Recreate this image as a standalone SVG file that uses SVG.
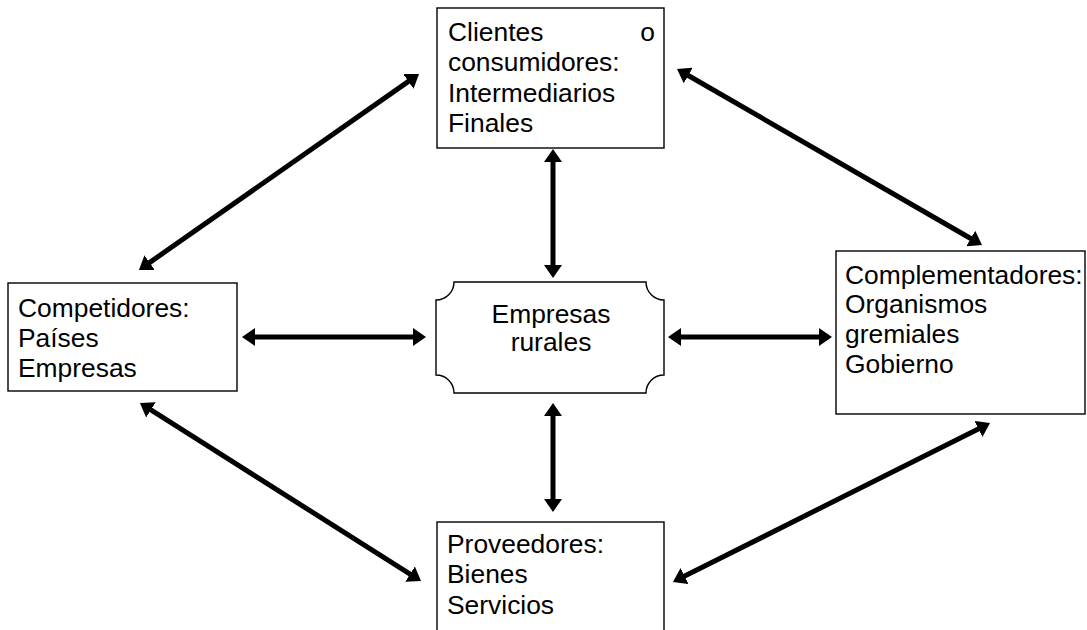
<svg xmlns="http://www.w3.org/2000/svg" width="1087" height="630" viewBox="0 0 1087 630">
<style>
.box{fill:#fff;stroke:#000;stroke-width:1.4}
.t{font-family:"Liberation Sans",Arial,sans-serif;font-size:26.4px;fill:#000}
.c{fill:none;stroke:#000;stroke-width:5}
</style>
<defs>
<marker id="ah" markerUnits="userSpaceOnUse" markerWidth="14" markerHeight="18" refX="1" refY="9" orient="auto-start-reverse">
<path d="M0,0 L13,9 L0,18 Z" fill="#000"/>
</marker>
</defs>
<rect width="1087" height="630" fill="#fff"/>
<g id="clientes">
<rect class="box" x="437" y="8" width="227" height="140"/>
<text class="t" x="448" y="41">Clientes</text>
<text class="t" x="655" y="41" text-anchor="end">o</text>
<text class="t" x="448" y="71">consumidores:</text>
<text class="t" x="448" y="102">Intermediarios</text>
<text class="t" x="448" y="132">Finales</text>
</g>
<g id="empresas">
<path class="box" d="M454,282 H646 A18,18 0 0 0 664,300 V375 A18,18 0 0 0 646,393 H454 A18,18 0 0 0 436,375 V300 A18,18 0 0 0 454,282 Z"/>
<text class="t" x="551" y="323" text-anchor="middle">Empresas</text>
<text class="t" x="551" y="351" text-anchor="middle">rurales</text>
</g>
<g id="proveedores">
<rect class="box" x="437" y="522" width="227" height="120"/>
<text class="t" x="447" y="553">Proveedores:</text>
<text class="t" x="447" y="583">Bienes</text>
<text class="t" x="447" y="614">Servicios</text>
</g>
<g id="complementadores">
<rect class="box" x="836" y="251" width="249" height="163"/>
<text class="t" x="845" y="284">Complementadores:</text>
<text class="t" x="845" y="313">Organismos</text>
<text class="t" x="845" y="343">gremiales</text>
<text class="t" x="845" y="373">Gobierno</text>
</g>
<g id="competidores">
<rect class="box" x="8" y="283" width="229" height="108"/>
<text class="t" x="18" y="317">Competidores:</text>
<text class="t" x="18" y="347">Países</text>
<text class="t" x="18" y="377">Empresas</text>
</g>
<g id="connectors">
<line class="c" x1="148.8" y1="263.1" x2="409.2" y2="80.9" marker-start="url(#ah)" marker-end="url(#ah)"/>
<line class="c" x1="687.4" y1="75" x2="971.6" y2="239" marker-start="url(#ah)" marker-end="url(#ah)"/>
<line class="c" x1="553" y1="161" x2="553" y2="266" marker-start="url(#ah)" marker-end="url(#ah)"/>
<line class="c" x1="553" y1="415" x2="553" y2="500" marker-start="url(#ah)" marker-end="url(#ah)"/>
<line class="c" x1="254" y1="337" x2="414" y2="337" marker-start="url(#ah)" marker-end="url(#ah)"/>
<line class="c" x1="680" y1="337" x2="820" y2="337" marker-start="url(#ah)" marker-end="url(#ah)"/>
<line class="c" x1="150.1" y1="409.4" x2="410.9" y2="574.6" marker-start="url(#ah)" marker-end="url(#ah)"/>
<line class="c" x1="683.7" y1="576.6" x2="979.3" y2="428.4" marker-start="url(#ah)" marker-end="url(#ah)"/>
</g>
</svg>
